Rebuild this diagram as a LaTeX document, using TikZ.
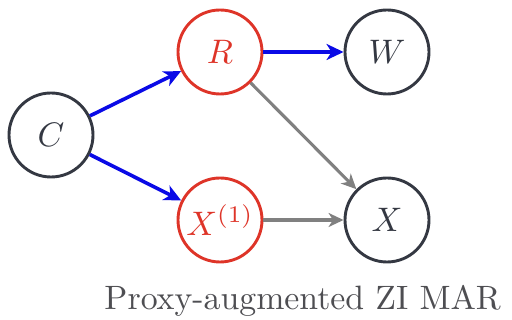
\documentclass[tikz,border=0pt]{standalone}
\usepackage{graphicx}
\usetikzlibrary{arrows.meta}
\definecolor{nred}{RGB}{222,52,40}
\definecolor{ndark}{RGB}{52,56,66}
\definecolor{nblue}{RGB}{10,10,230}
\definecolor{ngray}{RGB}{128,128,128}
\definecolor{tgray}{RGB}{78,78,82}
\newcommand{\nodemath}[1]{\scalebox{3.4}{$#1$}}
\tikzset{
  var/.style={circle, draw=ndark, line width=2.9pt, minimum size=84pt, inner sep=0pt, text=ndark},
  obs/.style={var, draw=nred, text=nred},
  blue edge/.style={draw=nblue, line width=3.6pt, -{Stealth[length=17pt,width=16pt,inset=5pt]}},
  gray edge/.style={draw=ngray, line width=3.1pt, -{Stealth[length=15pt,width=14pt,inset=4.5pt]}},
}
\begin{document}
\begin{tikzpicture}[x=1pt,y=1pt]
\useasboundingbox (0,0) rectangle (512,320);
\node[var] (C) at (51,185) {\nodemath{C}};
\node[obs] (R) at (220,268) {\nodemath{R}};
\node[var] (W) at (387,268) {\nodemath{W}};
\node[obs] (X1) at (220,100) {\nodemath{X^{(1)}}};
\node[var] (X) at (387,100) {\nodemath{X}};
\draw[blue edge] (C) -- (R);
\draw[blue edge] (C) -- (X1);
\draw[blue edge] (R) -- (W);
\draw[gray edge] (R) -- (X);
\draw[gray edge] (X1) -- (X);
\node[anchor=base east, text=tgray, inner sep=0pt] (cap) at (501,10) {\scalebox{3.38}{Proxy-augmented ZI MAR}};
\end{tikzpicture}
\end{document}
